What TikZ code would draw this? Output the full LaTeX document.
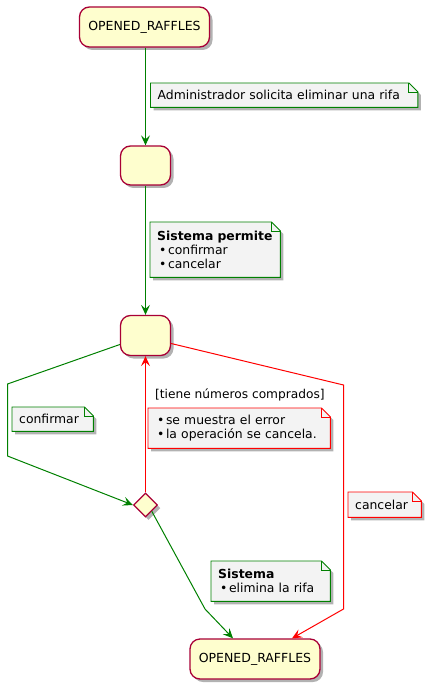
\documentclass[tikz,border=0pt]{standalone}
\usepackage{fontspec}
\setmainfont{DejaVu Sans}
\usetikzlibrary{arrows.meta,shapes.geometric,shadows,backgrounds}
\definecolor{stfill}{HTML}{FEFECE}
\definecolor{stdraw}{HTML}{A80036}
\definecolor{pgreen}{HTML}{008000}
\definecolor{pred}{HTML}{FF0000}
\definecolor{notefill}{HTML}{F3F3F3}
\tikzset{
  shad/.style={drop shadow={shadow xshift=3pt,shadow yshift=-3pt,opacity=0.3,fill=black}},
  state/.style={draw=stdraw,fill=stfill,line width=1.3pt,rounded corners=10pt,shad,
    font=\fontsize{12.5}{15}\selectfont,inner sep=0pt},
  choice/.style={diamond,draw=stdraw,fill=stfill,line width=1.2pt,shad,minimum width=24pt,minimum height=24pt,inner sep=0pt,aspect=1},
  notetext/.style={anchor=north west,align=left,inner xsep=7pt,inner ysep=0pt,
    font=\fontsize{12.4}{15}\selectfont},
  conn/.style={line width=1pt,-{Stealth[length=10pt,width=9pt,inset=4pt]}},
  gconn/.style={conn,color=pgreen},
  rconn/.style={conn,color=pred},
  lbl/.style={font=\fontsize{12.2}{14}\selectfont,inner sep=0pt},
}
\newcommand\bul{\hspace{2pt}•\hspace{1.5pt}}
\newcommand\notebox[2]{% #1 name, #2 colour
  \begin{scope}[on background layer]
  \draw[fill=notefill,draw=#2,line width=0.9pt,shad]
    (#1.south west) -- (#1.north west) -- ([xshift=-9pt]#1.north east)
    -- ([yshift=-9pt]#1.north east) -- (#1.south east) -- cycle;
  \draw[draw=#2,line width=0.9pt] ([xshift=-9pt]#1.north east) -- ([xshift=-9pt,yshift=-9pt]#1.north east) -- ([yshift=-9pt]#1.north east);
  \end{scope}}
\begin{document}
\begin{tikzpicture}[x=1pt,y=-1pt]
\useasboundingbox (0,0) rectangle (426,692);
% states
\node[state,minimum width=130pt,minimum height=40pt] (s1) at (144.5,27) {OPENED\_RAFFLES};
\node[state,minimum width=50pt,minimum height=39pt] (s2) at (145.5,165.5) {};
\node[state,minimum width=50pt,minimum height=40pt] (s3) at (145.5,335.5) {};
\node[choice] (d) at (145.5,505) {};
\node[state,minimum width=130pt,minimum height=40pt] (e) at (255,659) {OPENED\_RAFFLES};
% notes
\node[notetext,text width=253pt,minimum height=24pt] (n1) at (150.5,83) {Administrador solicita eliminar una rifa};
\notebox{n1}{pgreen}
\node[notetext,text width=116pt,minimum height=55pt] (n2) at (150,222) {\textbf{Sistema permite}\\[-1pt]\bul confirmar\\[-1pt]\bul cancelar};
\notebox{n2}{pgreen}
\node[notetext,text width=168pt,minimum height=40pt] (n3) at (148,408) {\bul se muestra el error\\[-1pt]\bul la operación se cancela.};
\notebox{n3}{pred}
\node[notetext,text width=67pt,minimum height=24pt] (n4) at (12,407) {confirmar};
\notebox{n4}{pgreen}
\node[notetext,text width=59pt,minimum height=25pt] (n5) at (348,492) {cancelar};
\notebox{n5}{pred}
\node[notetext,text width=105pt,minimum height=40pt] (n6) at (211,561) {\textbf{Sistema}\\[-1pt]\bul elimina la rifa};
\notebox{n6}{pgreen}
\node[lbl,anchor=west] (g) at (155,395) {[tiene números comprados]};
% bend coordinates
\coordinate (a1) at (7.5,384);
\coordinate (a2) at (7.5,456);
\coordinate (b1) at (343.5,385);
\coordinate (b2) at (343.5,609);
\coordinate (c1) at (205,609);
% connectors
\draw[gconn] (s1.south -| s2.north) -- (s2.north);
\draw[gconn] (s2.south) -- (s3.north);
\draw[gconn] ([yshift=-9pt]s3.west) -- (a1) -- (a2) -- (d.west);
\draw[rconn] (d.north) -- (s3.south);
\draw[rconn] ([yshift=-8pt]s3.east) -- (b1) -- (b2) -- ([xshift=37pt]e.north);
\draw[gconn] (d.south east) -- (c1) -- ([xshift=-22pt]e.north);
\end{tikzpicture}
\end{document}
